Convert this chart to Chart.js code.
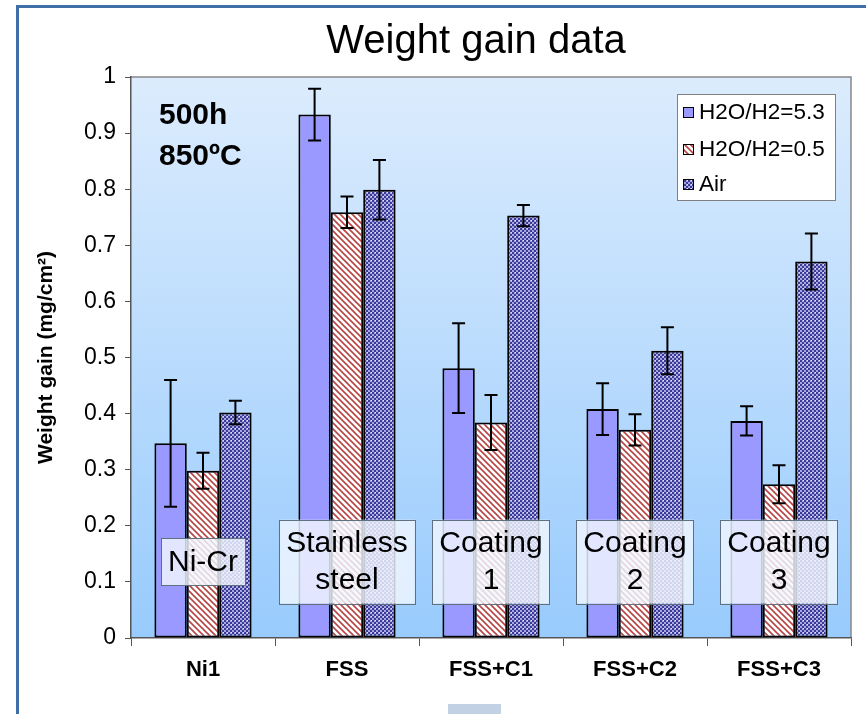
<!DOCTYPE html>
<html>
<head>
<meta charset="utf-8">
<script src="https://cdn.jsdelivr.net/npm/chart.js"></script>
<style>
  html, body { margin: 0; padding: 0; background: #fff; }
  #wrap { width: 866px; height: 714px; position: relative; }
</style>
</head>
<body>
<div id="wrap"><canvas id="myChart"></canvas></div>
<script>
// data
const categories = ["Ni1", "FSS", "FSS+C1", "FSS+C2", "FSS+C3"];
const seriesNames = ["H2O/H2=5.3", "H2O/H2=0.5", "Air"];
const h2o53 = [0.347, 0.933, 0.481, 0.408, 0.387];
const h2o53Err = [0.113, 0.046, 0.080, 0.046, 0.026];
const h2o05 = [0.298, 0.759, 0.384, 0.371, 0.274];
const h2o05Err = [0.032, 0.028, 0.049, 0.028, 0.034];
const air = [0.402, 0.799, 0.753, 0.512, 0.671];
const airErr = [0.021, 0.053, 0.019, 0.042, 0.050];
const yTicks = [0, 0.1, 0.2, 0.3, 0.4, 0.5, 0.6, 0.7, 0.8, 0.9, 1];
const boxLabels = [["Ni-Cr"], ["Stainless", "steel"], ["Coating", "1"], ["Coating", "2"], ["Coating", "3"]];
const boxCenterValue = 0.136;

const FONT = "Arial, 'Liberation Sans', sans-serif";

// fill patterns
function stripePattern() {
  const c = document.createElement("canvas");
  c.width = 6; c.height = 6;
  const g = c.getContext("2d");
  g.fillStyle = "#ffffff";
  g.fillRect(0, 0, 6, 6);
  g.strokeStyle = "#b84444";
  g.lineWidth = 1.6;
  g.beginPath();
  g.moveTo(-1, -1); g.lineTo(7, 7);
  g.moveTo(-4, 2); g.lineTo(4, 10);
  g.moveTo(2, -4); g.lineTo(10, 4);
  g.stroke();
  return g.createPattern(c, "repeat");
}

function checkPattern() {
  const c = document.createElement("canvas");
  c.width = 4; c.height = 4;
  const g = c.getContext("2d");
  g.fillStyle = "#a6a6dc";
  g.fillRect(0, 0, 4, 4);
  g.fillStyle = "#3a3a9a";
  g.fillRect(0, 0, 2, 2);
  g.fillRect(2, 2, 2, 2);
  g.fillStyle = "#e6e6ff";
  g.fillRect(3, 0, 1, 1);
  return g.createPattern(c, "repeat");
}

const fills = ["#9999ff", stripePattern(), checkPattern()];
const errors = [h2o53Err, h2o05Err, airErr];

const decorPlugin = {
  id: "decor",
  beforeDraw(chart) {
    const ctx = chart.ctx;
    const a = chart.chartArea;
    ctx.save();
    ctx.fillStyle = "#ffffff";
    ctx.fillRect(0, 0, chart.width, chart.height);
    // outer frame
    ctx.strokeStyle = "#3f6fa6";
    ctx.lineWidth = 3;
    ctx.beginPath();
    ctx.moveTo(17.5, chart.height);
    ctx.lineTo(17.5, 6.5);
    ctx.lineTo(chart.width, 6.5);
    ctx.stroke();
    ctx.fillStyle = "#c2d2e4";
    ctx.fillRect(448, 704, 53, 10);
    // plot background
    const grad = ctx.createLinearGradient(0, a.top, 0, a.bottom);
    grad.addColorStop(0, "#dcecfd");
    grad.addColorStop(1, "#98cbfd");
    ctx.fillStyle = grad;
    ctx.fillRect(a.left, a.top, a.right - a.left, a.bottom - a.top);
    ctx.strokeStyle = "#888888";
    ctx.lineWidth = 1.5;
    ctx.beginPath();
    ctx.moveTo(a.left, a.top);
    ctx.lineTo(a.right, a.top);
    ctx.lineTo(a.right, a.bottom);
    ctx.stroke();
    ctx.restore();
  },
  afterDatasetsDraw(chart) {
    const ctx = chart.ctx;
    const y = chart.scales.y;
    const x = chart.scales.x;
    ctx.save();
    // error bars
    ctx.strokeStyle = "#000";
    ctx.lineWidth = 2;
    chart.data.datasets.forEach((ds, i) => {
      const meta = chart.getDatasetMeta(i);
      meta.data.forEach((bar, j) => {
        const v = ds.data[j], e = errors[i][j];
        const yt = y.getPixelForValue(v + e);
        const yb = y.getPixelForValue(v - e);
        ctx.beginPath();
        ctx.moveTo(bar.x, yt); ctx.lineTo(bar.x, yb);
        ctx.moveTo(bar.x - 6.5, yt); ctx.lineTo(bar.x + 6.5, yt);
        ctx.moveTo(bar.x - 6.5, yb); ctx.lineTo(bar.x + 6.5, yb);
        ctx.stroke();
      });
    });
    // category text boxes
    ctx.font = "30px " + FONT;
    ctx.textAlign = "center";
    ctx.textBaseline = "middle";
    const lineH = 37;
    const cy = y.getPixelForValue(boxCenterValue);
    boxLabels.forEach((lines, i) => {
      const cx = x.getPixelForValue(i);
      const w = Math.max(...lines.map(t => ctx.measureText(t).width)) + 14;
      const h = lines.length * lineH + 10;
      ctx.fillStyle = "rgba(242,246,255,0.82)";
      ctx.fillRect(cx - w / 2, cy - h / 2, w, h);
      ctx.strokeStyle = "#5f7080";
      ctx.lineWidth = 1;
      ctx.strokeRect(Math.round(cx - w / 2) + 0.5, Math.round(cy - h / 2) + 0.5, Math.round(w), Math.round(h));
      ctx.fillStyle = "#000";
      lines.forEach((t, k) => {
        ctx.fillText(t, cx, cy + (k - (lines.length - 1) / 2) * lineH + 1);
      });
    });
    ctx.restore();
  },
  afterDraw(chart) {
    const ctx = chart.ctx;
    ctx.save();
    // title
    ctx.fillStyle = "#000";
    ctx.font = "40px " + FONT;
    ctx.textAlign = "center";
    ctx.textBaseline = "alphabetic";
    ctx.fillText("Weight gain data", 476, 53);
    // conditions
    ctx.font = "bold 30px " + FONT;
    ctx.textAlign = "left";
    ctx.fillText("500h", 159, 124);
    ctx.fillText("850\u00baC", 159, 165);
    // legend
    ctx.fillStyle = "#ffffff";
    ctx.fillRect(677, 94, 158, 106);
    ctx.strokeStyle = "#808080";
    ctx.lineWidth = 1;
    ctx.strokeRect(677.5, 94.5, 158, 106);
    const ly = [112, 149, 184];
    ctx.font = "22.5px " + FONT;
    ctx.textBaseline = "middle";
    seriesNames.forEach((name, i) => {
      ctx.fillStyle = fills[i];
      ctx.fillRect(683, ly[i] - 5, 11, 11);
      ctx.strokeStyle = "#000";
      ctx.strokeRect(683.5, ly[i] - 4.5, 10, 10);
      ctx.fillStyle = "#000";
      ctx.fillText(name, 699, ly[i] + 1);
    });
    ctx.restore();
  }
};

new Chart(document.getElementById("myChart").getContext("2d"), {
  type: "bar",
  data: {
    labels: categories,
    datasets: [h2o53, h2o05, air].map((d, i) => ({
      label: seriesNames[i],
      data: d,
      backgroundColor: fills[i],
      borderColor: "#000",
      borderWidth: 2,
      borderSkipped: false,
      categoryPercentage: 0.675,
      barPercentage: 1
    }))
  },
  options: {
    responsive: true,
    maintainAspectRatio: false,
    animation: false,
    layout: { padding: { left: 20, right: 15, top: 77, bottom: 0 } },
    plugins: {
      legend: { display: false },
      tooltip: { enabled: false }
    },
    scales: {
      x: {
        grid: { drawOnChartArea: false, drawTicks: true, tickLength: 8, color: "#555" },
        border: { color: "#555", width: 1.5 },
        ticks: { color: "#000", padding: 11, font: { family: FONT, size: 22, weight: "bold" } },
        afterFit(scale) { scale.height = 76; }
      },
      y: {
        min: 0,
        max: 1,
        afterBuildTicks(scale) { scale.ticks = yTicks.map(v => ({ value: v })); },
        grid: { drawOnChartArea: false, drawTicks: true, tickLength: 6, color: "#555" },
        border: { color: "#555", width: 1.5 },
        ticks: {
          color: "#000",
          padding: 9,
          font: { family: FONT, size: 23 },
          callback: v => String(+v.toFixed(1))
        },
        title: {
          display: true,
          text: "Weight gain (mg/cm\u00b2)",
          color: "#000",
          padding: { top: 14, bottom: 0 },
          font: { family: FONT, size: 21, weight: "bold" }
        },
        afterFit(scale) { scale.width = 111; }
      }
    }
  },
  plugins: [decorPlugin]
});
</script>
</body>
</html>
